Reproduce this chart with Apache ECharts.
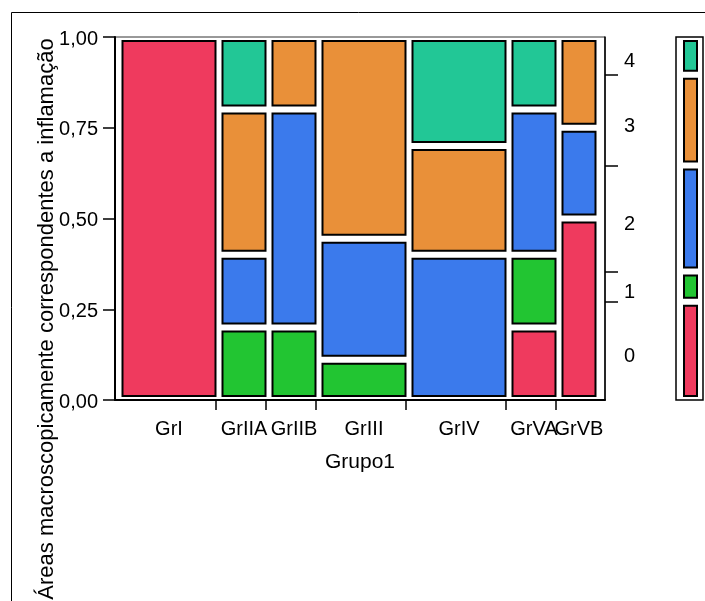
<!DOCTYPE html>
<html>
<head>
<meta charset="utf-8">
<script src="https://cdn.jsdelivr.net/npm/echarts@6/dist/echarts.min.js"></script>
<style>
html,body{margin:0;padding:0;background:#fff;}
#chart{width:705px;height:601px;}
</style>
</head>
<body>
<div id="chart"></div>
<script>
// Groups (x categories) and counts per response level (0..4)
const groups = ['GrI', 'GrIIA', 'GrIIB', 'GrIII', 'GrIV', 'GrVA', 'GrVB'];
const levels = ['0', '1', '2', '3', '4'];
const level0 = [10, 0, 0, 0, 0, 1, 2];
const level1 = [0, 1, 1, 1, 0, 1, 0];
const level2 = [0, 1, 3, 3, 4, 2, 1];
const level3 = [0, 2, 1, 5, 3, 0, 1];
const level4 = [0, 1, 0, 0, 3, 1, 0];
const yTicks = [0, 0.25, 0.5, 0.75, 1];
const xTitle = 'Grupo1';
const yTitle = 'Áreas macroscopicamente correspondentes a inflamação';

const levelColors = ['#EF3A5E', '#22C532', '#3B7AEC', '#E99039', '#22C796'];

const counts = [level0, level1, level2, level3, level4];
const groupTotals = groups.map((g, i) => counts.reduce((s, row) => s + row[i], 0));
const grand = groupTotals.reduce((a, b) => a + b, 0);

// mosaic tiles
const tiles = [];
const groupStarts = [];
const groupCenters = [];
let cx = 0;
groups.forEach((g, i) => {
  groupStarts.push(cx);
  groupCenters.push(cx + groupTotals[i] / 2);
  let cy = 0;
  counts.forEach((row, l) => {
    if (row[i] > 0) {
      const f = row[i] / groupTotals[i];
      tiles.push([cx, cx + groupTotals[i], cy, cy + f, l]);
      cy += f;
    }
  });
  cx += groupTotals[i];
});
const groupEnds = groupStarts.map((s, i) => s + groupTotals[i]);
const xTickVals = groupEnds.slice(0, -1).map(v => v - 0.35);
const centersEven = groupCenters.filter((v, i) => i % 2 === 0);
const centersOdd = groupCenters.filter((v, i) => i % 2 === 1);

// marginal distribution
const margTiles = [];
const margBounds = [];
const margMids = [];
let my = 0;
counts.forEach((row, l) => {
  const f = row.reduce((a, b) => a + b, 0) / grand;
  margTiles.push([0, 1, my, my + f, l]);
  margMids.push(my + f / 2);
  my += f;
  if (l < counts.length - 1) margBounds.push(my);
});

function nearestIdx(arr, v) {
  let best = 0, bd = Infinity;
  arr.forEach((a, i) => { const d = Math.abs(a - v); if (d < bd) { bd = d; best = i; } });
  return best;
}

const FONT = "'Liberation Sans', Arial, sans-serif";
const chart = echarts.init(document.getElementById('chart'), null, {renderer: 'canvas'});

function tileRenderer(padX1, padX2, padY) {
  return function (params, api) {
    const p0 = api.coord([api.value(0), api.value(3)]);
    const p1 = api.coord([api.value(1), api.value(2)]);
    return {
      type: 'rect',
      shape: {
        x: p0[0] + padX1,
        y: p0[1] + padY,
        width: p1[0] - p0[0] - padX1 - padX2,
        height: p1[1] - p0[1] - 2 * padY
      },
      style: {fill: levelColors[api.value(4)], stroke: '#000', lineWidth: 2}
    };
  };
}

const groupLabel = v => groups[nearestIdx(groupCenters, v)];

chart.setOption({
  animation: false,
  backgroundColor: '#fff',
  textStyle: {fontFamily: FONT},
  grid: [
    {left: 115, top: 37, width: 490, height: 363, show: true, borderColor: '#333', borderWidth: 1, outerBoundsMode: 'none', containLabel: false},
    {left: 676, top: 37, width: 27, height: 363, show: true, borderColor: '#000', borderWidth: 1.5, outerBoundsMode: 'none', containLabel: false}
  ],
  xAxis: [
    {
      type: 'value', gridIndex: 0, min: -0.4, max: grand + 0.6, position: 'bottom',
      axisLine: {show: true, onZero: false, lineStyle: {color: '#000', width: 2}},
      axisTick: {show: true, customValues: xTickVals, length: 10, lineStyle: {color: '#000', width: 1.5}},
      axisLabel: {
        show: true, customValues: centersEven, margin: 19, fontSize: 20, color: '#000', fontFamily: FONT,
        hideOverlap: false, formatter: groupLabel
      },
      splitLine: {show: false},
      name: xTitle, nameLocation: 'middle', nameGap: 52,
      nameTextStyle: {fontSize: 21, color: '#000', fontFamily: FONT}
    },
    {type: 'value', gridIndex: 1, min: 0, max: 1, show: false},
    {
      type: 'value', gridIndex: 0, min: -0.4, max: grand + 0.6, position: 'bottom', offset: 0,
      axisLine: {show: false, onZero: false},
      axisTick: {show: false},
      axisLabel: {
        show: true, customValues: centersOdd, margin: 19, fontSize: 20, color: '#000', fontFamily: FONT,
        hideOverlap: false, formatter: groupLabel
      },
      splitLine: {show: false}
    }
  ],
  yAxis: [
    {
      type: 'value', gridIndex: 0, min: 0, max: 1, interval: 0.25, position: 'left',
      axisLine: {show: true, onZero: false, lineStyle: {color: '#000', width: 2}},
      axisTick: {show: true, length: 12, lineStyle: {color: '#000', width: 1.5}},
      axisLabel: {
        margin: 17, fontSize: 20, color: '#000', fontFamily: FONT,
        customValues: yTicks, verticalAlign: 'top', lineHeight: 4,
        formatter: v => v.toFixed(2).replace('.', ',')
      },
      splitLine: {show: false}
    },
    {
      type: 'value', gridIndex: 0, min: 0, max: 1, position: 'right',
      axisLine: {show: true, onZero: false, lineStyle: {color: '#000', width: 1.5}},
      axisTick: {show: true, customValues: margBounds, length: 13, lineStyle: {color: '#000', width: 1.5}},
      axisLabel: {
        show: true, customValues: margMids, margin: 19, fontSize: 20, color: '#000', fontFamily: FONT,
        hideOverlap: false, verticalAlign: 'top', lineHeight: 12,
        formatter: v => levels[nearestIdx(margMids, v)]
      },
      splitLine: {show: false}
    },
    {type: 'value', gridIndex: 1, min: 0, max: 1, show: false}
  ],
  series: [
    {
      type: 'custom', xAxisIndex: 0, yAxisIndex: 0,
      data: tiles,
      encode: {x: [0, 1], y: [2, 3]},
      renderItem: tileRenderer(3.5, 3.5, 4)
    },
    {
      type: 'custom', xAxisIndex: 1, yAxisIndex: 2,
      data: margTiles,
      encode: {x: [0, 1], y: [2, 3]},
      renderItem: tileRenderer(8, 6, 4)
    }
  ],
  graphic: [
    {type: 'rect', shape: {x: 11.5, y: 12.5, width: 900, height: 900}, style: {fill: 'none', stroke: '#000', lineWidth: 1}, z: -1, silent: true},
    {
      type: 'text', x: 47, y: 319, rotation: Math.PI / 2,
      style: {text: yTitle, fontSize: 22, fontFamily: FONT, fill: '#000', align: 'center', verticalAlign: 'middle'},
      silent: true
    }
  ]
});
</script>
</body>
</html>
